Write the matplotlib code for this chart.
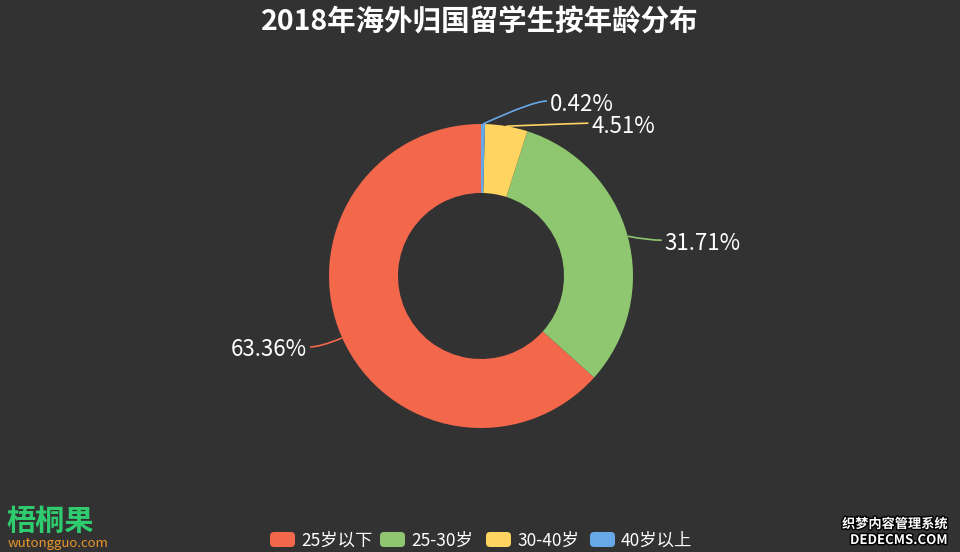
import numpy as np
import matplotlib
matplotlib.use("Agg")
import matplotlib.pyplot as plt
from matplotlib.patches import FancyBboxPatch, PathPatch
from matplotlib.path import Path
import matplotlib.patheffects as pe

plt.rcParams['font.family'] = ['Noto Sans CJK SC', 'DejaVu Sans']

title = "2018年海外归国留学生按年龄分布"
categories = ["25岁以下", "25-30岁", "30-40岁", "40岁以上"]
values = [63.36, 31.71, 4.51, 0.42]
colors = ["#F3674B", "#8EC76F", "#FFD460", "#67A8E6"]

BG = "#323232"
W, H = 960, 552

fig = plt.figure(figsize=(W / 100, H / 100), dpi=100, facecolor=BG)
ax = fig.add_axes([0, 0, 1, 1])

cx, cy = 481, H - 276
r_out, r_in = 152, 83

wedges, _ = ax.pie(values, colors=colors, startangle=90, counterclock=True,
                   radius=r_out, center=(cx, cy), frame=True,
                   wedgeprops=dict(width=r_out - r_in, linewidth=0))
ax.set_xlim(0, W)
ax.set_ylim(0, H)
ax.set_aspect("equal")
ax.axis("off")

# leader lines: (elbow dx, elbow dy) from the slice edge, then horizontal run
label_tweaks = {
    0: (-22, -9, -10),
    1: (20, -4, 14),
    2: (78, 3, 4),
    3: (50, 23, 14),
}

for i, w in enumerate(wedges):
    ang = np.deg2rad((w.theta1 + w.theta2) / 2)
    x0 = cx + r_out * np.cos(ang)
    y0 = cy + r_out * np.sin(ang)
    dx, dy, run = label_tweaks[i]
    x1, y1 = x0 + dx, y0 + dy
    x2 = x1 + run
    # smooth bend through the elbow
    xm, ym = x0 + dx * 0.75, y0 + dy
    path = Path([(x0, y0), (x1, y1), (x2, y1)],
                [Path.MOVETO, Path.CURVE3, Path.CURVE3])
    ax.add_patch(PathPatch(path, facecolor="none", edgecolor=colors[i], lw=1.2))
    ha = "left" if run > 0 else "right"
    ax.text(x2 + (3 if run > 0 else -3), y1 - 3, f"{values[i]:.2f}%",
            color="white", fontsize=16, ha=ha, va="center")

ax.text(W / 2, H - 22, title, color="white", fontsize=20.5, fontweight="bold",
        ha="center", va="center")

# legend
leg_x = [270, 380, 486, 590]
for i, name in enumerate(categories):
    box = FancyBboxPatch((leg_x[i], H - 547), 25, 15,
                         boxstyle="round,pad=0,rounding_size=4",
                         facecolor=colors[i], edgecolor="none")
    ax.add_patch(box)
    ax.text(leg_x[i] + 31, H - 541, name, color="white", fontsize=12.5,
            ha="left", va="center")

# watermarks
ax.text(6, H - 521, "梧桐果", color="#2ECC6E", fontsize=21, fontweight="bold",
        ha="left", va="center")
ax.text(8, H - 543, "wutongguo.com", color="#E8952C", fontsize=9.5,
        ha="left", va="center")
ax.text(948, H - 524, "织梦内容管理系统", color="white", fontsize=9.5,
        fontweight="bold", ha="right", va="center",
        path_effects=[pe.withStroke(linewidth=2, foreground="black")])
ax.text(948, H - 540, "DEDECMS.COM", color="white", fontsize=9.5,
        fontweight="bold", ha="right", va="center",
        path_effects=[pe.withStroke(linewidth=2, foreground="black")])

fig.savefig("out.png", dpi=100, facecolor=BG)
